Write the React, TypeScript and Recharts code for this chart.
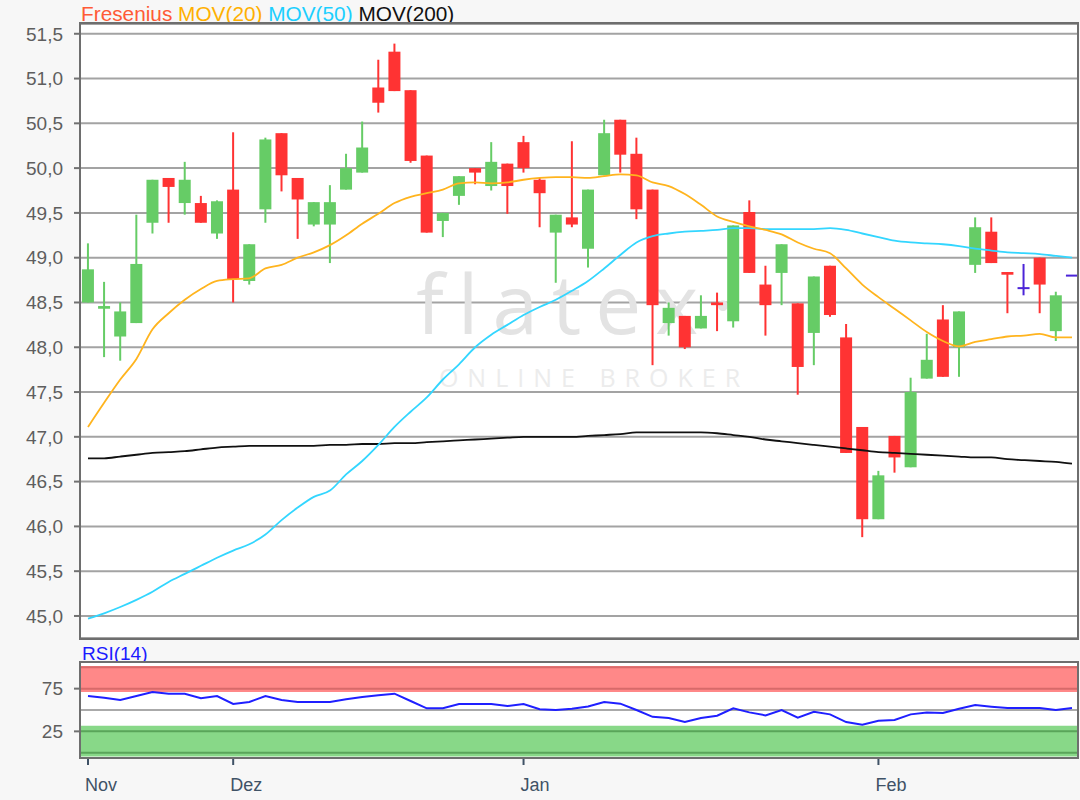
import React from 'react'
import { ComposedChart, Bar, Line, XAxis, YAxis, CartesianGrid, ReferenceArea, ReferenceLine } from 'recharts'

const OPEN = [48.50, 48.43, 48.12, 48.27, 49.39, 49.89, 49.61, 49.61, 49.27, 49.76, 48.74, 49.54, 50.39, 49.89, 49.37, 49.37, 49.76, 49.95, 50.90, 51.30, 50.87, 50.14, 49.41, 49.69, 50.00, 49.80, 50.05, 50.29, 49.87, 49.28, 49.45, 49.10, 49.92, 50.54, 50.16, 49.76, 48.27, 48.35, 48.21, 48.50, 48.29, 49.51, 48.70, 48.83, 48.49, 48.16, 48.91, 48.11, 47.11, 46.08, 47.01, 46.66, 47.65, 48.31, 48.00, 48.92, 49.29, 48.84, 48.66, 49.00, 48.18, 48.80]
const HIGH = [49.16, 48.73, 48.50, 49.48, 49.87, 49.89, 50.07, 49.69, 49.64, 50.40, 49.15, 50.34, 50.39, 49.89, 49.62, 49.81, 50.16, 50.52, 51.21, 51.39, 50.87, 50.14, 49.50, 49.91, 50.00, 50.29, 50.05, 50.36, 49.89, 49.48, 50.30, 49.76, 50.54, 50.54, 50.34, 49.76, 48.50, 48.35, 48.58, 48.61, 49.36, 49.64, 48.91, 49.15, 48.49, 48.79, 48.91, 48.26, 47.11, 46.62, 47.01, 47.66, 48.15, 48.47, 48.40, 49.45, 49.45, 48.84, 48.93, 49.00, 48.62, 48.80]
const LOW = [48.50, 47.89, 47.85, 48.27, 49.27, 49.39, 49.48, 49.39, 49.21, 48.50, 48.70, 49.39, 49.74, 49.21, 49.35, 48.94, 49.76, 49.95, 50.62, 50.86, 50.06, 49.28, 49.23, 49.59, 49.82, 49.75, 49.49, 49.95, 49.34, 48.72, 49.34, 48.89, 49.92, 49.95, 49.43, 47.80, 48.13, 47.98, 48.21, 48.18, 48.22, 48.83, 48.13, 48.47, 47.47, 47.80, 48.34, 46.82, 45.88, 46.08, 46.60, 46.66, 47.65, 47.67, 47.67, 48.83, 48.94, 48.38, 48.58, 48.38, 48.07, 48.80]
const CLOSE = [48.87, 48.46, 48.40, 48.93, 49.87, 49.79, 49.87, 49.39, 49.63, 48.76, 49.15, 50.32, 49.92, 49.65, 49.62, 49.62, 50.00, 50.23, 50.73, 50.86, 50.08, 49.28, 49.50, 49.91, 49.95, 50.07, 49.80, 50.00, 49.72, 49.48, 49.37, 49.76, 50.39, 50.15, 49.54, 48.47, 48.44, 48.00, 48.35, 48.47, 49.36, 48.83, 48.47, 49.15, 47.78, 48.79, 48.36, 46.82, 46.08, 46.57, 46.77, 47.50, 47.86, 47.67, 48.40, 49.34, 48.94, 48.81, 48.66, 48.70, 48.58, 48.80]

const MA20 = [47.11, 47.38, 47.64, 47.87, 48.20, 48.38, 48.53, 48.65, 48.74, 48.76, 48.77, 48.88, 48.92, 49.00, 49.06, 49.14, 49.25, 49.38, 49.49, 49.61, 49.68, 49.72, 49.76, 49.83, 49.84, 49.83, 49.84, 49.87, 49.89, 49.90, 49.90, 49.89, 49.91, 49.93, 49.92, 49.84, 49.80, 49.71, 49.59, 49.46, 49.40, 49.35, 49.31, 49.26, 49.17, 49.10, 49.05, 48.88, 48.70, 48.56, 48.43, 48.30, 48.17, 48.07, 48.01, 48.06, 48.09, 48.12, 48.13, 48.15, 48.11, 48.11]
const MA50 = [44.97, 45.03, 45.10, 45.18, 45.27, 45.38, 45.47, 45.56, 45.65, 45.73, 45.80, 45.91, 46.07, 46.21, 46.33, 46.40, 46.58, 46.73, 46.91, 47.11, 47.28, 47.44, 47.64, 47.81, 48.00, 48.14, 48.25, 48.36, 48.45, 48.53, 48.63, 48.74, 48.88, 49.03, 49.17, 49.24, 49.27, 49.29, 49.30, 49.31, 49.33, 49.33, 49.32, 49.32, 49.32, 49.32, 49.33, 49.31, 49.27, 49.23, 49.19, 49.17, 49.16, 49.15, 49.13, 49.10, 49.08, 49.06, 49.05, 49.04, 49.02, 49.00]
const MA200 = [46.76, 46.76, 46.78, 46.80, 46.82, 46.83, 46.84, 46.86, 46.88, 46.89, 46.90, 46.90, 46.90, 46.90, 46.90, 46.91, 46.91, 46.92, 46.92, 46.93, 46.93, 46.94, 46.95, 46.96, 46.97, 46.98, 46.99, 47.00, 47.00, 47.00, 47.00, 47.01, 47.02, 47.03, 47.05, 47.05, 47.05, 47.05, 47.05, 47.04, 47.02, 47.00, 46.97, 46.95, 46.93, 46.91, 46.89, 46.87, 46.85, 46.83, 46.82, 46.81, 46.80, 46.79, 46.78, 46.77, 46.77, 46.75, 46.74, 46.73, 46.72, 46.70]
const RSI = [66.4, 64.4, 61.7, 66.4, 71.1, 69.1, 69.1, 63.7, 66.4, 57.0, 59.4, 66.4, 61.7, 59.4, 59.4, 59.4, 62.5, 65.2, 67.2, 69.1, 60.5, 52.0, 52.0, 57.0, 57.0, 57.0, 54.7, 57.0, 50.8, 50.0, 51.5, 54.0, 59.4, 57.4, 50.0, 42.0, 40.6, 35.9, 40.6, 43.3, 51.9, 47.2, 43.7, 50.0, 41.0, 48.0, 44.9, 35.9, 32.8, 37.5, 38.3, 44.9, 47.2, 46.5, 51.5, 55.8, 53.9, 52.3, 52.3, 52.3, 50.0, 52.3]

const MONTH_TICKS = [0, 9, 27, 49]
const MONTH_LABELS = ['Nov', 'Dez', 'Jan', 'Feb']
const PRICE_TICKS = [45, 45.5, 46, 46.5, 47, 47.5, 48, 48.5, 49, 49.5, 50, 50.5, 51, 51.5]
const RSI_TICKS = [25, 75]

const X_DOMAIN = [-0.434, 61.31]
const FONT = '"Liberation Sans", Arial, sans-serif'

const data = OPEN.map((o, i) => ({
  idx: i,
  open: o,
  high: HIGH[i],
  low: LOW[i],
  close: CLOSE[i],
  ma20: MA20[i],
  ma50: MA50[i],
  ma200: MA200[i],
  rsi: RSI[i],
}))

function Candle(props: any) {
  const { x, y, width, height, payload } = props
  const { open, close, high, low } = payload
  const top = Math.min(y, y + height)
  const h = Math.abs(height)
  const cx = x + width / 2
  const color = open === close ? '#4b24d8' : close > open ? '#66cc66' : '#ff3333'
  if (high === low || h === 0) {
    return <line x1={x} x2={x + width} y1={top} y2={top} stroke={color} strokeWidth={2} />
  }
  const k = h / (high - low)
  const yO = top + (high - open) * k
  const yC = top + (high - close) * k
  const bt = Math.min(yO, yC)
  const bh = Math.abs(yO - yC)
  return (
    <g>
      <line x1={cx} x2={cx} y1={top} y2={top + h} stroke={color} strokeWidth={2} />
      {open === close
        ? <line x1={x} x2={x + width} y1={yO} y2={yO} stroke={color} strokeWidth={2} />
        : <rect x={x} y={bt} width={width} height={Math.max(bh, 2)} fill={color} />}
    </g>
  )
}

function MonthTick(props: any) {
  const { x, y, payload } = props
  const label = MONTH_LABELS[MONTH_TICKS.indexOf(payload.value)]
  return (
    <text x={x - 3} y={y + 24} textAnchor="start" fontSize={18} fontFamily={FONT} fill="#3f5266">
      {label}
    </text>
  )
}

const frame = { position: 'absolute' as const, border: '2px solid #6e6e6e', pointerEvents: 'none' as const }

export default function App() {
  return (
    <div style={{ position: 'absolute', left: 0, top: 0, width: 1080, height: 800, background: '#f7f7f7', fontFamily: FONT, overflow: 'hidden' }}>
      <div style={{ position: 'absolute', left: 81, top: 2, fontSize: 20.8, whiteSpace: 'nowrap' }}>
        <span style={{ color: '#ff5a36' }}>Fresenius</span>{' '}
        <span style={{ color: '#ffb000' }}>MOV(20)</span>{' '}
        <span style={{ color: '#1ccfff' }}>MOV(50)</span>{' '}
        <span style={{ color: '#111' }}>MOV(200)</span>
      </div>

      <div style={{ position: 'absolute', left: 0, top: 0 }}>
        <ComposedChart width={1080} height={650} data={data} margin={{ top: 24, right: 3, bottom: 12, left: 0 }}>
          <CartesianGrid vertical={false} stroke="#a3a3a3" strokeWidth={2} fill="#ffffff" />
          <text x={582} y={334} textAnchor="middle" fontSize={82} fontFamily='"Open Sans", sans-serif' fill="#e3e3e3" letterSpacing={14}>
            flatex·
          </text>
          <text x={594} y={387} textAnchor="middle" fontSize={25} fontFamily='"Open Sans", sans-serif' fill="#ececec" letterSpacing={9}>
            ONLINE BROKER
          </text>
          <XAxis dataKey="idx" type="number" domain={X_DOMAIN} hide allowDataOverflow />
          <YAxis
            domain={[44.754, 51.609]}
            ticks={PRICE_TICKS}
            width={81}
            allowDataOverflow
            axisLine={false}
            tickSize={7}
            tickMargin={11}
            tickLine={{ stroke: '#707070', strokeWidth: 2 }}
            tick={{ fontSize: 19, fill: '#5e5e5e', fontFamily: FONT }}
            tickFormatter={(v: number) => v.toFixed(1).replace('.', ',')}
          />
          <Bar dataKey={(d: any) => [d.low, d.high]} barSize={12} shape={<Candle />} isAnimationActive={false} />
          <Line dataKey="ma200" type="monotone" stroke="#111111" strokeWidth={1.8} dot={false} isAnimationActive={false} />
          <Line dataKey="ma50" type="monotone" stroke="#33d6ff" strokeWidth={1.8} dot={false} isAnimationActive={false} />
          <Line dataKey="ma20" type="monotone" stroke="#ffb41e" strokeWidth={1.8} dot={false} isAnimationActive={false} />
        </ComposedChart>
      </div>
      <div style={{ ...frame, left: 79, top: 22, width: 996, height: 614 }} />

      <div style={{ position: 'absolute', left: 82, top: 643, fontSize: 19, color: '#1a1aff' }}>RSI(14)</div>

      <div style={{ position: 'absolute', left: 0, top: 640 }}>
        <ComposedChart width={1080} height={160} data={data} margin={{ top: 23, right: 3, bottom: 0, left: 0 }}>
          <CartesianGrid horizontal={false} vertical={false} fill="#ffffff" />
          <XAxis
            dataKey="idx"
            type="number"
            domain={X_DOMAIN}
            ticks={MONTH_TICKS}
            interval={0}
            allowDataOverflow
            height={43}
            axisLine={false}
            tickSize={8}
            tickLine={{ stroke: '#3f5266', strokeWidth: 2 }}
            tick={<MonthTick />}
          />
          <YAxis
            domain={[-5, 105]}
            ticks={RSI_TICKS}
            width={81}
            allowDataOverflow
            axisLine={false}
            tickSize={7}
            tickMargin={11}
            tickLine={{ stroke: '#707070', strokeWidth: 2 }}
            tick={{ fontSize: 19, fill: '#5e5e5e', fontFamily: FONT }}
          />
          <ReferenceArea y1={71} y2={101.5} fill="#ff0000" fillOpacity={0.467} stroke="none" />
          <ReferenceArea y1={-4.5} y2={31.5} fill="#00ab00" fillOpacity={0.467} stroke="none" />
          <ReferenceLine y={100} stroke="#d86a6a" strokeWidth={2} />
          <ReferenceLine y={75} stroke="#d86a6a" strokeWidth={2} />
          <ReferenceLine y={50} stroke="#aaaaaa" strokeWidth={2} />
          <ReferenceLine y={25} stroke="#5aa55a" strokeWidth={2} />
          <ReferenceLine y={0} stroke="#5aa55a" strokeWidth={2} />
          <Line dataKey="rsi" type="linear" stroke="#1f1fff" strokeWidth={2} dot={false} isAnimationActive={false} />
        </ComposedChart>
      </div>
      <div style={{ ...frame, left: 79, top: 661, width: 996, height: 94 }} />
    </div>
  )
}
